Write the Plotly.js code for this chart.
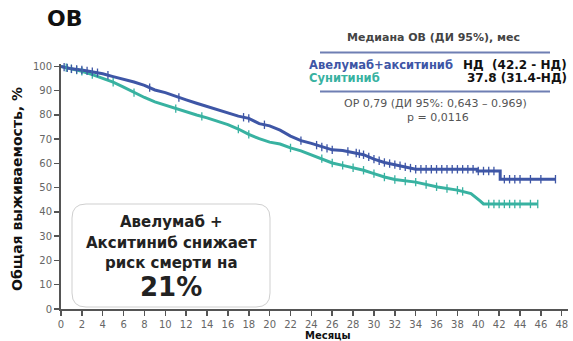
<!DOCTYPE html>
<html>
<head>
<meta charset="utf-8">
<script src="https://cdn.plot.ly/plotly-3.0.1.min.js"></script>
<style>html,body{margin:0;padding:0;background:#fff;}#chart{width:573px;height:341px;}</style>
</head>
<body>
<div id="chart"></div>
<script>
// ---- Data ----
var seriesNames = ["Авелумаб+акситиниб", "Сунитиниб"];

// Авелумаб + акситиниб: time (months), OS (%)
var aaMonths = [0, 0.5, 1, 2, 3, 4, 5, 6, 7, 8, 9, 10, 11, 12, 13, 14, 15, 16, 17, 18, 19, 20, 21, 22, 23, 24, 25, 26, 27, 28, 29, 30, 31, 32, 33, 34, 35, 39.9, 39.9, 42.1, 42.1, 47.4];
var aaOS     = [100, 99.5, 99, 98.5, 97.8, 97, 95.8, 94.8, 93.6, 92.2, 90.3, 89.2, 87.6, 86.2, 84.8, 83.5, 82.2, 80.8, 79.5, 78.6, 76.4, 75.5, 73.7, 71.3, 69.4, 68.3, 66.8, 65.6, 65.3, 64.6, 63.6, 61.8, 60.4, 59.5, 58.6, 57.6, 57.6, 57.6, 56.9, 56.9, 53.5, 53.5];
var aaCensor = [0.3, 0.6, 1, 1.5, 2, 2.5, 3, 3.5, 4.5, 8.5, 11.3, 17.5, 18, 19.5, 23, 24.5, 25, 25.5, 26, 27.5, 28.3, 28.6, 29, 29.5, 30, 30.5, 31, 31.5, 32, 32.5, 33, 33.5, 34, 34.5, 35, 35.5, 36, 36.5, 37, 37.5, 38, 38.5, 39, 39.5, 40, 40.5, 41, 41.5, 42.5, 43, 43.5, 44, 45, 46, 47.4];

// Сунитиниб
var suMonths = [0, 1, 2, 3, 4, 5, 6, 7, 8, 9, 10, 11, 12, 13, 14, 15, 16, 17, 18, 19, 20, 21, 22, 23, 24, 25, 26, 27, 28, 29, 30, 31, 32, 33, 34, 36.1, 38, 39.3, 39.8, 40.2, 40.5, 45.7];
var suOS     = [100, 99, 98, 96.6, 95, 93.5, 91.5, 89.2, 87.2, 85.4, 84, 82.6, 81.3, 80, 78.8, 77.5, 76, 74.2, 72, 70.2, 68.8, 68, 66.4, 65.2, 63.6, 62, 60.2, 59.2, 58.2, 57.2, 55.8, 54.4, 53.4, 52.7, 52.3, 50.3, 49, 47.6, 46, 44.5, 43.3, 43.3];
var suCensor = [0.5, 1, 1.5, 2, 3, 5, 7, 11, 13.5, 17, 18, 22, 25, 26, 27, 28, 29, 30, 31, 32, 33, 34, 35, 36, 37, 38, 38.5, 41, 41.5, 42, 42.5, 43, 43.5, 44, 45, 45.7];

var xTicks = [0,2,4,6,8,10,12,14,16,18,20,22,24,26,28,30,32,34,36,38,40,42,44,46,48];
var yTicks = [0,10,20,30,40,50,60,70,80,90,100];

var medianRows = [["Авелумаб+акситиниб", "НД  (42.2 - НД)"], ["Сунитиниб", "37.8 (31.4-НД)"]];
var hrText = "ОР 0,79 (ДИ 95%: 0,643 – 0.969)";
var pText = "p = 0,0116";
var boxLines = ["Авелумаб +", "Акситиниб снижает", "риск смерти на"];
var boxBig = "21%";

// ---- helpers ----
var BLUE = "#3e56a6", TEAL = "#38b2a1";
function valueAt(xs, ys, t) {
  var v = ys[0];
  for (var i = 1; i < xs.length; i++) {
    if (xs[i] <= t) { v = ys[i]; continue; }
    var x0 = xs[i-1], x1 = xs[i];
    if (x1 === x0) { v = ys[i]; continue; }
    v = ys[i-1] + (ys[i] - ys[i-1]) * (t - x0) / (x1 - x0);
    break;
  }
  return v;
}

var W = 573, H = 341, ML = 61, MR = 5, MT = 64, MB = 32;
var PW = W - ML - MR, PH = H - MT - MB;
function px(x) { return (x - ML) / PW; }
function py(y) { return (H - MB - y) / PH; }

var font = "DejaVu Sans, Verdana, sans-serif";

var traces = [
  {x: suMonths, y: suOS, mode: "lines", line: {color: TEAL, width: 3}, name: seriesNames[1], cliponaxis: false, hoverinfo: "skip"},
  {x: aaMonths, y: aaOS, mode: "lines", line: {color: BLUE, width: 3}, name: seriesNames[0], cliponaxis: false, hoverinfo: "skip"},
  {x: suCensor, y: suCensor.map(function(t){return valueAt(suMonths, suOS, t);}), mode: "markers",
   marker: {symbol: "line-ns-open", size: 6, color: TEAL, line: {color: TEAL, width: 1.3}}, cliponaxis: false, hoverinfo: "skip"},
  {x: aaCensor, y: aaCensor.map(function(t){return valueAt(aaMonths, aaOS, t);}), mode: "markers",
   marker: {symbol: "line-ns-open", size: 6, color: BLUE, line: {color: BLUE, width: 1.3}}, cliponaxis: false, hoverinfo: "skip"}
];

var ann = [];
function addText(text, x, y, opt) {
  ann.push(Object.assign({
    text: text, xref: "paper", yref: "paper", x: px(x), y: py(y),
    xanchor: "center", yanchor: "middle", showarrow: false,
    font: {family: font, size: 11, color: "#222"}
  }, opt || {}));
}
addText("<b>ОВ</b>", 45, 18.5, {xanchor: "left", font: {family: font, size: 22, color: "#111"}});
addText("<b>Общая выживаемость, %</b>", 17, 189, {textangle: -90, font: {family: font, size: 14, color: "#111"}});
addText("<b>Месяцы</b>", 328, 335, {font: {family: font, size: 10, color: "#111"}});
addText("<b>Медиана ОВ (ДИ 95%), мес</b>", 433, 37, {font: {family: font, size: 11, color: "#444"}});
addText("<b>" + medianRows[0][0] + "</b>", 307, 64.5, {xanchor: "left", font: {family: font, size: 11.5, color: BLUE}});
addText("<b>" + medianRows[0][1] + "</b>", 569, 64.5, {xanchor: "right", font: {family: font, size: 12, color: "#111"}});
addText("<b>" + medianRows[1][0] + "</b>", 307, 78, {xanchor: "left", font: {family: font, size: 11.5, color: TEAL}});
addText("<b>" + medianRows[1][1] + "</b>", 569, 78, {xanchor: "right", font: {family: font, size: 12, color: "#111"}});
addText(hrText, 435, 103, {font: {family: font, size: 11, color: "#555"}});
addText(pText, 438, 117, {font: {family: font, size: 11, color: "#555"}});
addText("<b>" + boxLines[0] + "</b>", 171, 222, {font: {family: font, size: 15, color: "#222"}});
addText("<b>" + boxLines[1] + "</b>", 171, 243, {font: {family: font, size: 15, color: "#222"}});
addText("<b>" + boxLines[2] + "</b>", 171, 263, {font: {family: font, size: 15, color: "#222"}});
addText("<b>" + boxBig + "</b>", 171, 287, {font: {family: font, size: 26, color: "#222"}});

function roundRect(x0, y0, x1, y1, r) {
  var X = function(v){return px(v);}, Y = function(v){return py(v);};
  return "M" + X(x0 + r) + "," + Y(y0) +
    " L" + X(x1 - r) + "," + Y(y0) +
    " Q" + X(x1) + "," + Y(y0) + " " + X(x1) + "," + Y(y0 + r) +
    " L" + X(x1) + "," + Y(y1 - r) +
    " Q" + X(x1) + "," + Y(y1) + " " + X(x1 - r) + "," + Y(y1) +
    " L" + X(x0 + r) + "," + Y(y1) +
    " Q" + X(x0) + "," + Y(y1) + " " + X(x0) + "," + Y(y1 - r) +
    " L" + X(x0) + "," + Y(y0 + r) +
    " Q" + X(x0) + "," + Y(y0) + " " + X(x0 + r) + "," + Y(y0) + " Z";
}

var shapes = [
  {type: "line", xref: "paper", yref: "paper", x0: px(320), x1: px(550), y0: py(52.5), y1: py(52.5), line: {color: "#6f7fb3", width: 2}},
  {type: "line", xref: "paper", yref: "paper", x0: px(320), x1: px(550), y0: py(91.5), y1: py(91.5), line: {color: "#6f7fb3", width: 2}},
  {type: "path", xref: "paper", yref: "paper", path: roundRect(72, 204, 270, 307, 14), line: {color: "#cfcfcf", width: 1}, fillcolor: "rgba(255,255,255,1)", layer: "above"}
];

var axisCommon = {
  showline: true, linecolor: "#555", linewidth: 2, ticks: "outside", ticklen: 5, tickwidth: 1.5, tickcolor: "#555",
  showgrid: false, zeroline: false, tickfont: {family: font, size: 10, color: "#666"}, fixedrange: true
};

var layout = {
  width: W, height: H, margin: {l: ML, r: MR, t: MT, b: MB, pad: 0},
  paper_bgcolor: "#fff", plot_bgcolor: "#fff", showlegend: false,
  xaxis: Object.assign({}, axisCommon, {range: [0, 48.6], tickvals: xTicks, ticktext: xTicks.map(String)}),
  yaxis: Object.assign({}, axisCommon, {range: [0, 101], tickvals: yTicks, ticktext: yTicks.map(String)}),
  annotations: ann, shapes: shapes
};

Plotly.newPlot("chart", traces, layout, {displayModeBar: false, staticPlot: true});
</script>
</body>
</html>
